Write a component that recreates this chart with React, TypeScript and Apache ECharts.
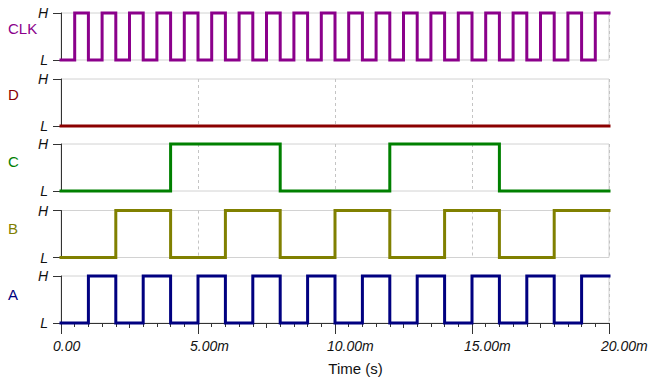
import React, { useEffect, useRef } from "react";
import * as echarts from "echarts";

// ---- data ----
const signalNames = ["CLK", "D", "C", "B", "A"];
const signalColors = ["#8b008b", "#8b0000", "#008000", "#808000", "#000080"];
// logic levels (0 = L, 1 = H), each held for `signalSteps` ms
const clkLevels = [0, 1, 0, 1, 0, 1, 0, 1, 0, 1, 0, 1, 0, 1, 0, 1, 0, 1, 0, 1, 0, 1, 0, 1, 0, 1, 0, 1, 0, 1, 0, 1, 0, 1, 0, 1, 0, 1, 0, 1];
const dLevels = [0];
const cLevels = [0, 1, 0, 1, 0];
const bLevels = [0, 1, 0, 1, 0, 1, 0, 1, 0, 1];
const aLevels = [0, 1, 0, 1, 0, 1, 0, 1, 0, 1, 0, 1, 0, 1, 0, 1, 0, 1, 0, 1];
const signalLevels = [clkLevels, dLevels, cLevels, bLevels, aLevels];
const signalSteps = [0.5, 20, 4, 2, 1]; // ms
const timeMin = 0;
const timeMax = 20; // ms
const timeTicks = [0, 5, 10, 15, 20];
const levelLabels = ["L", "H"];
const axisTitle = "Time (s)";

// ---- layout ----
const FONT = "'Liberation Sans', Arial, Helvetica, sans-serif";
const panelTops = [13, 79, 144, 210.5, 276];
const panelHeight = 47;
const plotLeft = 61;
const plotRight = 42;
const nameY = [28, 94, 161, 228, 294];

function fmtTime(v: number) {
  return v === 0 ? "0.00" : v.toFixed(2) + "m";
}

export default function App() {
  const ref = useRef<HTMLDivElement>(null);
  useEffect(() => {
    if (!ref.current) return;
    const chart = echarts.init(ref.current, null, { renderer: "svg" });
    const n = signalNames.length;
    const last = n - 1;

    const grids: any[] = panelTops.map((t) => ({
      left: plotLeft,
      right: plotRight,
      top: t,
      height: panelHeight,
      show: true,
      borderColor: "#d2d2d2",
      borderWidth: 1,
      backgroundColor: "transparent",
    }));
    grids.push({ left: plotLeft - 8, right: plotRight + 8, top: panelTops[last], height: panelHeight });

    const xAxes: any[] = panelTops.map((_, i) => ({
      gridIndex: i,
      type: "value",
      position: "bottom",
      min: timeMin,
      max: timeMax,
      interval: 5,
      axisLine: { show: i === last, onZero: false, lineStyle: { color: "#333", width: 1 } },
      axisTick: { show: i === last, length: 11, lineStyle: { color: "#333" } },
      minorTick: { show: i === last, splitNumber: 10, length: 4, lineStyle: { color: "#333" } },
      axisLabel: { show: false },
      splitLine: { show: true, lineStyle: { type: [3, 3], color: "#c4c4c4", width: 1 } },
      minorSplitLine: { show: false },
    }));
    // medium ticks
    xAxes.push({
      gridIndex: last,
      type: "value",
      position: "bottom",
      min: timeMin,
      max: timeMax,
      interval: 2.5,
      axisLine: { show: false, onZero: false },
      axisTick: { show: true, length: 5, lineStyle: { color: "#333" } },
      axisLabel: { show: false },
      splitLine: { show: false },
    });
    // tick labels
    xAxes.push({
      gridIndex: n,
      type: "value",
      position: "bottom",
      min: timeMin,
      max: timeMax,
      interval: 5,
      axisLine: { show: false, onZero: false },
      axisTick: { show: false },
      splitLine: { show: false },
      axisLabel: {
        show: true,
        align: "left",
        margin: 16,
        fontStyle: "italic",
        fontSize: 14,
        fontFamily: FONT,
        color: "#111",
        showMinLabel: true,
        showMaxLabel: true,
        customValues: timeTicks,
        formatter: (v: number) => fmtTime(v),
      },
    });

    const yAxes: any[] = panelTops.map((_, i) => ({
      gridIndex: i,
      type: "value",
      position: "left",
      min: 0,
      max: 1,
      interval: 1,
      axisLine: { show: true, onZero: false, lineStyle: { color: "#333", width: 1 } },
      axisTick: { show: true, length: 8, lineStyle: { color: "#333" } },
      axisLabel: {
        show: true,
        margin: 13,
        fontStyle: "italic",
        fontSize: 14,
        fontFamily: FONT,
        color: "#111",
        formatter: (v: number) => levelLabels[v] ?? "",
      },
      splitLine: { show: false },
    }));
    yAxes.push({ gridIndex: n, type: "value", min: 0, max: 1, show: false });

    const series = signalLevels.map((lv, i) => {
      const data = lv.map((v, k) => [timeMin + k * signalSteps[i], v]);
      data.push([timeMax, lv[lv.length - 1]]);
      return {
        type: "line",
        name: signalNames[i],
        xAxisIndex: i,
        yAxisIndex: i,
        data,
        step: "end",
        showSymbol: false,
        symbol: "none",
        clip: false,
        silent: true,
        z: 5,
        lineStyle: { color: signalColors[i], width: 3, join: "miter", cap: "square" },
        itemStyle: { color: signalColors[i] },
      };
    });

    const graphic: any[] = signalNames.map((name, i) => ({
      type: "text",
      x: 8,
      y: nameY[i],
      style: {
        text: name,
        fill: signalColors[i],
        font: `15px ${FONT}`,
        align: "left",
        verticalAlign: "middle",
        textVerticalAlign: "middle",
      },
    }));
    graphic.push({
      type: "text",
      x: 355.5,
      y: 368,
      style: {
        text: axisTitle,
        fill: "#111",
        font: `15px ${FONT}`,
        align: "center",
        textAlign: "center",
        verticalAlign: "middle",
        textVerticalAlign: "middle",
      },
    });

    chart.setOption({
      animation: false,
      backgroundColor: "#ffffff",
      textStyle: { fontFamily: FONT },
      grid: grids,
      xAxis: xAxes,
      yAxis: yAxes,
      series,
      graphic,
    });
    return () => chart.dispose();
  }, []);
  return (
    <div
      ref={ref}
      style={{ position: "fixed", left: 0, top: 0, width: 651, height: 381 }}
    />
  );
}
